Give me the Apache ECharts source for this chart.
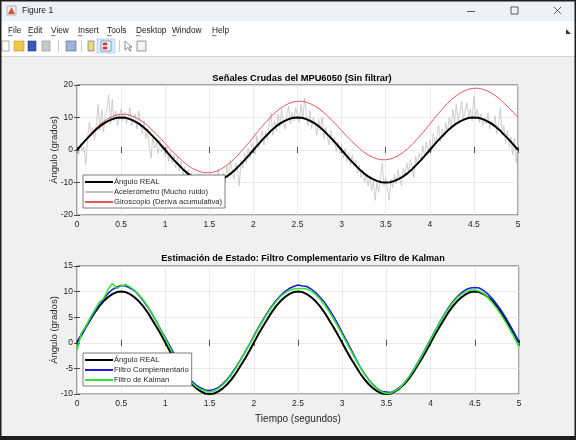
<!DOCTYPE html>
<html><head><meta charset="utf-8">
<script src="https://cdn.jsdelivr.net/npm/echarts@6/dist/echarts.min.js"></script>
<style>html,body{margin:0;padding:0;background:#f0f0f0}#c{width:576px;height:440px}</style>
</head><body><div id="c"></div>
<script>
// ---- data ----
const xTicks = ['0','0.5','1','1.5','2','2.5','3','3.5','4','4.5','5'];
const topTitle = 'Señales Crudas del MPU6050 (Sin filtrar)';
const bottomTitle = 'Estimación de Estado: Filtro Complementario vs Filtro de Kalman';
const topNames = ['Ángulo REAL','Acelerómetro (Mucho ruido)','Giroscopio (Deriva acumulativa)'];
const bottomNames = ['Ángulo REAL','Filtro Complementario','Filtro de Kalman'];
const stepSmooth = 0.05;   // s between samples of smooth curves
const stepAccel = 0.02;    // s between accelerometer samples

const realAngle = [
 0,1.6,3.1,4.5,5.9,7.1,8.1,8.9,9.5,9.9,10,9.9,9.5,8.9,8.1,7.1,5.9,4.5,3.1,1.6,
 0,-1.6,-3.1,-4.5,-5.9,-7.1,-8.1,-8.9,-9.5,-9.9,-10,-9.9,-9.5,-8.9,-8.1,-7.1,-5.9,-4.5,-3.1,-1.6,
 0,1.6,3.1,4.5,5.9,7.1,8.1,8.9,9.5,9.9,10,9.9,9.5,8.9,8.1,7.1,5.9,4.5,3.1,1.6,
 0,-1.6,-3.1,-4.5,-5.9,-7.1,-8.1,-8.9,-9.5,-9.9,-10,-9.9,-9.5,-8.9,-8.1,-7.1,-5.9,-4.5,-3.1,-1.6,
 0,1.6,3.1,4.5,5.9,7.1,8.1,8.9,9.5,9.9,10,9.9,9.5,8.9,8.1,7.1,5.9,4.5,3.1,1.6,
 0];
const gyro = [
 0,1.7,3.3,4.8,6.3,7.6,8.7,9.6,10.3,10.8,11.0,11.0,10.7,10.2,9.5,8.6,7.5,6.2,4.9,3.5,
 2.0,0.5,-0.9,-2.2,-3.5,-4.6,-5.5,-6.2,-6.7,-7.0,-7.0,-6.8,-6.3,-5.6,-4.7,-3.6,-2.3,-0.8,0.7,2.3,
 4.0,5.7,7.3,8.8,10.3,11.6,12.7,13.6,14.3,14.8,15.0,15.0,14.7,14.2,13.5,12.6,11.5,10.2,8.9,7.5,
 6.0,4.5,3.1,1.8,0.5,-0.6,-1.5,-2.2,-2.7,-3.0,-3.0,-2.8,-2.3,-1.6,-0.7,0.4,1.7,3.2,4.7,6.3,
 8.0,9.7,11.3,12.8,14.3,15.6,16.7,17.6,18.3,18.8,19.0,19.0,18.7,18.2,17.5,16.6,15.5,14.2,12.9,11.5,
 10.0];
const accel = [
 0.5,-1.5,2.0,-0.5,1.0,-4.5,3.5,8.5,5.0,7.0,3.0,8.5,14.0,6.0,12.5,5.5,10.5,13.0,17.0,8.0,15.5,9.0,12.0,7.5,10.5,
 12.5,9.0,11.5,8.0,10.0,13.0,7.5,9.5,11.0,6.5,12.0,8.5,5.0,9.0,3.5,6.5,1.0,-2.5,4.5,0.5,2.5,-1.0,3.0,-0.5,1.5,
 -2.0,1.0,-3.5,-0.5,-4.0,-1.5,-5.5,-2.0,-6.5,-3.5,-8.0,-5.0,-9.5,-6.0,-10.5,-7.0,-11.0,-8.0,-12.5,-7.5,-10.0,-13.0,-8.5,-11.5,-9.0,
 -12.0,-8.0,-11.0,-7.5,-10.5,-6.0,-9.5,-11.5,-7.0,-9.5,-5.0,-8.0,-3.0,-6.5,-9.0,-4.0,-6.0,-11.0,-3.0,-5.5,-1.0,-4.0,0.5,-2.5,2.0,
 1.0,-1.5,4.5,0.5,3.5,6.0,1.5,5.5,3.0,8.5,11.5,4.5,9.0,6.0,11.0,7.0,12.5,8.5,6.5,11.0,13.5,8.0,11.5,9.0,13.0,
 10.5,8.5,14.0,9.5,16.0,11.0,7.5,12.0,6.5,10.0,8.0,4.5,9.5,6.0,10.0,3.5,7.0,4.0,1.5,6.0,2.0,4.0,-0.5,2.5,-1.0,
 1.5,-2.5,0.5,-3.5,-1.0,-4.5,-1.5,-5.0,-3.0,-7.0,-4.5,-8.5,-6.0,-10.0,-7.5,-11.0,-8.0,-12.5,-9.5,-15.5,-10.0,-13.0,-9.0,-4.0,-11.0,
 -8.5,-12.0,-15.5,-9.0,-11.5,-7.5,-10.5,-6.0,-9.0,-11.0,-5.5,-8.0,-4.0,-7.0,-3.0,-5.5,-8.5,-2.0,-4.5,-1.0,-3.5,1.5,-2.0,2.5,-1.0,
 3.0,-0.5,5.0,2.0,4.0,7.5,2.5,6.5,4.0,8.5,5.5,10.0,7.0,12.5,8.5,14.0,9.0,11.5,15.0,9.5,12.0,14.5,10.0,12.5,9.0,
 16.5,10.5,12.5,8.5,11.0,7.5,10.0,8.0,11.5,6.5,9.0,7.0,10.5,5.0,8.0,13.0,4.5,7.5,2.0,6.0,1.0,4.0,-1.5,3.5,-4.0,
 2.5];
const complementary = [
 0.0,1.4,3.0,4.6,6.1,7.3,8.5,9.6,10.4,10.9,11.2,11.1,10.7,10.2,9.3,8.2,7.0,5.6,4.1,2.5,
 1.0,-0.6,-2.2,-3.8,-5.2,-6.5,-7.5,-8.3,-8.8,-9.2,-9.3,-9.1,-8.7,-8.0,-7.1,-6.0,-4.7,-3.3,-1.8,-0.3,
 1.3,2.9,4.4,5.8,7.1,8.2,9.2,10.0,10.6,11.0,11.3,11.1,11.0,10.5,9.8,8.9,7.9,6.6,5.2,3.7,
 2.0,0.4,-1.3,-3.0,-4.6,-6.0,-7.2,-8.2,-9.0,-9.5,-9.6,-9.7,-9.3,-8.7,-7.9,-6.8,-5.5,-4.0,-2.5,-0.9,
 0.7,2.3,3.9,5.4,6.8,8.0,9.0,9.8,10.4,10.7,10.8,10.7,10.2,9.5,8.6,7.5,6.3,4.9,3.4,1.8,
 0.2];
const kalman = [
 -1.5,1.9,3.2,4.9,6.4,7.9,8.6,10.4,11.6,10.6,11.1,11.4,10.9,10.3,9.4,8.4,7.1,5.7,4.1,2.4,
 0.8,-1.0,-2.6,-4.1,-5.5,-6.8,-7.8,-8.6,-9.1,-9.4,-9.6,-9.4,-8.9,-8.2,-7.3,-6.2,-4.9,-3.4,-1.9,-0.4,
 1.1,2.7,4.2,5.6,6.9,8.0,9.0,9.7,10.2,10.5,10.6,10.6,10.5,10.1,9.4,8.5,7.4,6.1,4.7,3.2,
 1.6,0.0,-1.6,-3.2,-4.7,-6.1,-7.3,-8.3,-9.1,-9.6,-9.9,-9.8,-9.4,-8.8,-7.9,-6.8,-5.5,-4.1,-2.6,-1.0,
 0.6,2.2,3.8,5.3,6.6,7.8,8.8,9.5,10.0,10.3,10.3,10.1,9.6,8.8,7.8,6.7,5.4,4.0,2.5,0.9,
 -0.8];

const pairs = (arr, step) => arr.map((v, i) => [+(i * step).toFixed(3), v]);

// ---- styles ----
const AX = '#262626';
const FONT = '"Liberation Sans", Arial, sans-serif';
const UI = '"Liberation Sans", "DejaVu Sans", sans-serif';

function xAx(gi, showLabels, name) {
  return [{
    type: 'value', gridIndex: gi, min: 0, max: 5, interval: 0.5, position: 'bottom',
    axisLine: {show: false},
    axisTick: {show: true, inside: true, length: 3, lineStyle: {color: AX, width: 0.8}},
    axisLabel: {show: showLabels, color: AX, fontSize: 8.5, fontFamily: FONT, margin: 5,
      formatter: v => xTicks[Math.round(v * 2)]},
    splitLine: {show: true, lineStyle: {color: '#e4e4e4', width: 0.8}},
    name: name || '', nameLocation: 'middle', nameGap: 20,
    nameTextStyle: {color: AX, fontSize: 10, fontFamily: FONT}
  }, {
    type: 'value', gridIndex: gi, min: 0, max: 5, interval: 0.5, position: 'top',
    axisLine: {show: false},
    axisTick: {show: true, inside: true, length: 3, lineStyle: {color: AX, width: 0.8}},
    axisLabel: {show: false}, splitLine: {show: false}
  }];
}
function yAx(gi, min, max, interval) {
  return [{
    type: 'value', gridIndex: gi, min, max, interval, position: 'left',
    axisLine: {show: false},
    axisTick: {show: true, inside: true, length: 3, lineStyle: {color: AX, width: 0.8}},
    axisLabel: {color: AX, fontSize: 8.5, fontFamily: FONT, margin: 4},
    splitLine: {show: true, lineStyle: {color: '#e4e4e4', width: 0.8}},
    name: 'Ángulo (grados)', nameLocation: 'middle', nameGap: 18, nameMoveOverlap: false,
    nameTextStyle: {color: AX, fontSize: 9.5, fontFamily: FONT}
  }, {
    type: 'value', gridIndex: gi, min, max, interval, position: 'right',
    axisLine: {show: false},
    axisTick: {show: true, inside: true, length: 3, lineStyle: {color: AX, width: 0.8}},
    axisLabel: {show: false}, splitLine: {show: false}
  }];
}
function line(name, data, xi, yi, color, width, z) {
  return {type: 'line', name, data, xAxisIndex: xi, yAxisIndex: yi, showSymbol: false, symbol: 'none',
    lineStyle: {color, width}, itemStyle: {color}, z: z || 2, animation: false, silent: true};
}

// ---- window chrome (graphic) ----
const chrome = [];
chrome.push({type: 'rect', shape: {x: 0, y: 0, width: 576, height: 21}, style: {fill: '#eef2f8'}, z: 100});
chrome.push({type: 'rect', shape: {x: 0, y: 21, width: 576, height: 35}, style: {fill: '#ffffff'}, z: 100});
chrome.push({type: 'rect', shape: {x: 0, y: 56, width: 576, height: 1}, style: {fill: '#d6d6d6'}, z: 100});
// title bar
chrome.push({type: 'rect', shape: {x: 7, y: 6, width: 9, height: 9}, style: {fill: '#f2f2f2', stroke: '#8a8a8a', lineWidth: 0.6}, z: 101});
chrome.push({type: 'polygon', shape: {points: [[8, 14], [11.5, 7], [15, 14]]}, style: {fill: '#d2542a'}, z: 102});
chrome.push({type: 'text', style: {text: 'Figure 1', x: 22, y: 11, fill: '#1a1a1a', fontSize: 8.5, fontFamily: UI, verticalAlign: 'middle'}, z: 101});
chrome.push({type: 'rect', shape: {x: 467, y: 11, width: 8, height: 0.8}, style: {fill: '#333'}, z: 101});
chrome.push({type: 'rect', shape: {x: 511, y: 7, width: 7, height: 7}, style: {fill: 'none', stroke: '#333', lineWidth: 0.8}, z: 101});
chrome.push({type: 'line', shape: {x1: 554, y1: 7, x2: 561, y2: 14}, style: {stroke: '#333', lineWidth: 0.8}, z: 101});
chrome.push({type: 'line', shape: {x1: 561, y1: 7, x2: 554, y2: 14}, style: {stroke: '#333', lineWidth: 0.8}, z: 101});
// menu
const menus = [['File', 8], ['Edit', 28], ['View', 51], ['Insert', 78], ['Tools', 107], ['Desktop', 136], ['Window', 172], ['Help', 212]];
menus.forEach(([m, x]) => {
  chrome.push({type: 'text', style: {text: m, x, y: 31, fill: '#1a1a1a', fontSize: 8.3, fontFamily: UI, verticalAlign: 'middle'}, z: 101});
  chrome.push({type: 'rect', shape: {x, y: 35.5, width: 4.5, height: 0.6}, style: {fill: '#1a1a1a'}, z: 101});
});
chrome.push({type: 'polygon', shape: {points: [[566, 29], [571, 34], [566, 34]]}, style: {fill: '#333'}, z: 101});
// toolbar icons
const tb = (x, w, fill, stroke, y, h) => chrome.push({type: 'rect', shape: {x, y: y || 41, width: w, height: h || 10}, style: {fill, stroke: stroke || '#777', lineWidth: 0.6}, z: 101});
tb(2, 7, '#ffffff'); tb(14, 10, '#f1c84b', '#b8902a'); tb(28, 8, '#3a56b8', '#223a80'); tb(42, 8, '#c8c8c8', '#8a8a8a');
tb(66, 10, '#9fb3d6', '#4a5f8a'); tb(88, 6, '#f5d76e', '#4263a8');
tb(97, 18, '#dbe8f8', '#9dbbe6', 39, 14); tb(101, 10, '#eef2fa', '#4a6ab0'); tb(103, 4, '#d03a3a', '#d03a3a', 43, 2); tb(103, 4, '#d03a3a', '#d03a3a', 47, 2);
chrome.push({type: 'polygon', shape: {points: [[125, 41], [125, 50], [127.5, 47.5], [130, 51], [131, 50.5], [129, 47], [132, 47]]}, style: {fill: '#fff', stroke: '#444', lineWidth: 0.6}, z: 101});
tb(137, 9, '#f4f4f4', '#555');
[58, 81, 119].forEach(x => chrome.push({type: 'rect', shape: {x, y: 40, width: 1, height: 12}, style: {fill: '#c8c8c8'}, z: 101}));
// window border
chrome.push({type: 'rect', shape: {x: 0.75, y: 0.75, width: 574.5, height: 437.5}, style: {fill: 'none', stroke: '#1e1e1e', lineWidth: 1.5}, z: 110});
chrome.push({type: 'rect', shape: {x: 0, y: 436, width: 576, height: 4}, style: {fill: '#1e1e1e'}, z: 110});

const legendBase = {
  orient: 'vertical', backgroundColor: '#ffffff', borderColor: AX, borderWidth: 0.6,
  padding: [3, 3, 2, 1], itemWidth: 28, itemHeight: 8, itemGap: 2,
  itemStyle: {opacity: 0},
  textStyle: {color: AX, fontSize: 7.6, fontFamily: FONT, padding: [0, 0, 0, -4]}, selectedMode: false, z: 20
};

const option = {
  backgroundColor: '#f0f0f0',
  animation: false,
  title: [
    {text: topTitle, left: 297, top: 69, textAlign: 'center',
      textStyle: {fontSize: 9.3, fontWeight: 'bold', color: '#000', fontFamily: FONT}},
    {text: bottomTitle, left: 298, top: 249, textAlign: 'center',
      textStyle: {fontSize: 9.1, fontWeight: 'bold', color: '#000', fontFamily: FONT}}
  ],
  grid: [
    {left: 77, top: 85, width: 441, height: 130, show: true, backgroundColor: '#fff', borderColor: AX, borderWidth: 0.8},
    {left: 77, top: 266, width: 442, height: 128, show: true, backgroundColor: '#fff', borderColor: AX, borderWidth: 0.8}
  ],
  xAxis: [...xAx(0, true), ...xAx(1, true, 'Tiempo (segundos)')],
  yAxis: [...yAx(0, -20, 20, 10), ...yAx(1, -10, 15, 5)],
  legend: [
    Object.assign({}, legendBase, {left: 83, top: 175, data: topNames}),
    Object.assign({}, legendBase, {left: 83, top: 353, data: bottomNames})
  ],
  graphic: chrome,
  series: [
    line(topNames[1], pairs(accel, stepAccel), 0, 0, '#c2c2c2', 0.8, 2),
    line(topNames[2], pairs(gyro, stepSmooth), 0, 0, '#e5575a', 1, 3),
    line(topNames[0], pairs(realAngle, stepSmooth), 0, 0, '#000000', 2, 4),
    line(bottomNames[0], pairs(realAngle, stepSmooth), 2, 2, '#000000', 2, 2),
    line(bottomNames[1], pairs(complementary, stepSmooth), 2, 2, '#1a1ae0', 1.5, 3),
    line(bottomNames[2], pairs(kalman, stepSmooth), 2, 2, '#2ee82e', 1.5, 4)
  ]
};
const chart = echarts.init(document.getElementById('c'), null, {renderer: 'canvas'});
chart.setOption(option);
</script></body></html>
